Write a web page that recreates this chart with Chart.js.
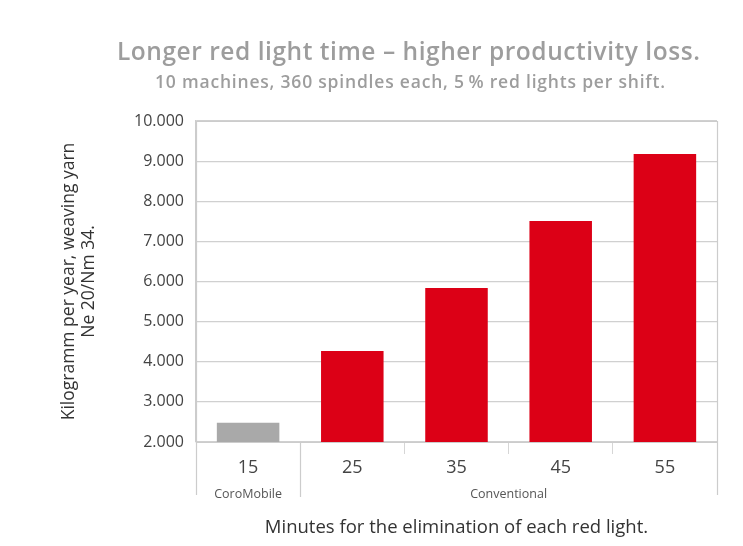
<!DOCTYPE html>
<html>
<head>
<meta charset="utf-8">
<script src="https://cdn.jsdelivr.net/npm/chart.js@4.4.1/dist/chart.umd.min.js"></script>
<style>
html,body{margin:0;padding:0;background:#fff;}
#wrap{width:743px;height:546px;position:relative;}
</style>
</head>
<body>
<div id="wrap"><canvas id="c" width="743" height="546"></canvas></div>
<script>
const categories = ['15', '25', '35', '45', '55'];
const lossKg = [2480, 4270, 5840, 7510, 9180];
const groupNames = ['CoroMobile', 'Conventional'];
const groupSpans = [[0, 0], [1, 4]];
const chartTitle = 'Longer red light time \u2013 higher productivity loss.';
const chartSubtitle = '10 machines, 360 spindles each, 5\u2009% red lights per shift.';
const yAxisTitle = ['Kilogramm per year, weaving yarn', 'Ne 20/Nm 34.'];
const xAxisTitle = 'Minutes for the elimination of each red light.';

const barColors = ['#a9a9a9', '#dc0016', '#dc0016', '#dc0016', '#dc0016'];
const FONT = "'Open Sans', 'DejaVu Sans', sans-serif";

function fmt(v) {
  return String(v).replace(/\B(?=(\d{3})+(?!\d))/g, '.');
}

function fitText(ctx, text, cx, cy, width) {
  ctx.letterSpacing = '0px';
  const w = ctx.measureText(text).width;
  const ls = (width - w) / Math.max(1, text.length - 1);
  ctx.letterSpacing = ls.toFixed(2) + 'px';
  ctx.textAlign = 'left';
  ctx.fillText(text, cx - width / 2, cy);
  ctx.letterSpacing = '0px';
}

const decor = {
  id: 'decor',
  beforeDatasetsDraw(chart) {
    const ctx = chart.ctx;
    const a = chart.chartArea;
    const x = chart.scales.x;
    ctx.save();
    ctx.strokeStyle = '#cccccc';
    ctx.lineWidth = 1.2;
    ctx.beginPath();
    ctx.moveTo(a.left, a.top + 0.5);
    ctx.lineTo(a.right, a.top + 0.5);
    ctx.stroke();
    const ext = a.bottom + 53;
    [a.left, a.right].forEach(px => {
      ctx.beginPath();
      ctx.moveTo(Math.round(px) + 0.5, a.top);
      ctx.lineTo(Math.round(px) + 0.5, ext);
      ctx.stroke();
    });
    for (let g = 0; g < groupSpans.length - 1; g++) {
      const i = groupSpans[g][1];
      const px = (x.getPixelForValue(i) + x.getPixelForValue(i + 1)) / 2;
      ctx.beginPath();
      ctx.moveTo(Math.round(px) + 0.5, a.bottom);
      ctx.lineTo(Math.round(px) + 0.5, ext + 2);
      ctx.stroke();
    }
    ctx.restore();
  },
  afterDraw(chart) {
    const ctx = chart.ctx;
    const a = chart.chartArea;
    const x = chart.scales.x;
    ctx.save();
    ctx.textBaseline = 'middle';
    ctx.fillStyle = '#9d9d9d';
    ctx.font = '600 24.5px ' + FONT;
    fitText(ctx, chartTitle, 408.5, 53, 583);
    ctx.font = '600 17.5px ' + FONT;
    fitText(ctx, chartSubtitle, 410, 83, 510);
    ctx.textAlign = 'center';
    ctx.fillStyle = '#555555';
    ctx.font = '12.5px ' + FONT;
    groupSpans.forEach((s, g) => {
      const l = s[0] === 0 ? a.left : (x.getPixelForValue(s[0]) + x.getPixelForValue(s[0] - 1)) / 2;
      const r = s[1] === categories.length - 1 ? a.right : (x.getPixelForValue(s[1]) + x.getPixelForValue(s[1] + 1)) / 2;
      ctx.fillText(groupNames[g], (l + r) / 2, a.bottom + 52);
    });
    ctx.restore();
  }
};

new Chart(document.getElementById('c'), {
  type: 'bar',
  data: {
    labels: categories,
    datasets: [{
      data: lossKg,
      backgroundColor: barColors,
      borderWidth: 0,
      categoryPercentage: 1.0,
      barPercentage: 0.6
    }]
  },
  options: {
    responsive: false,
    animation: false,
    layout: { padding: { left: 59, right: 26, top: 121, bottom: 0 } },
    plugins: {
      legend: { display: false },
      tooltip: { enabled: false },
      title: { display: false }
    },
    scales: {
      x: {
        afterFit(s) { s.height = 104; },
        grid: {
          offset: true,
          drawOnChartArea: false,
          drawTicks: true,
          tickLength: 12,
          color: '#d6d6d6'
        },
        border: { display: true, color: '#cccccc' },
        ticks: {
          color: '#444444',
          font: { family: FONT, size: 18 },
          padding: 3
        },
        title: {
          display: true,
          text: xAxisTitle,
          color: '#333333',
          font: { family: FONT, size: 18.5 },
          padding: { top: 0, bottom: 7 }
        }
      },
      y: {
        min: 2000,
        max: 10000,
        afterFit(s) { s.width = 196 - 59; },
        ticks: {
          stepSize: 1000,
          color: '#444444',
          font: { family: FONT, size: 16 },
          padding: 12,
          callback: v => fmt(v)
        },
        grid: {
          drawTicks: false,
          color: '#d0d0d0',
          lineWidth: 1.2
        },
        border: { display: true, color: '#cccccc', width: 1.2 },
        title: {
          display: true,
          text: yAxisTitle,
          color: '#333333',
          font: { family: FONT, size: 17.5, lineHeight: 1.15 },
          padding: { top: 0, bottom: 0 }
        }
      }
    }
  },
  plugins: [decor]
});
</script>
</body>
</html>
